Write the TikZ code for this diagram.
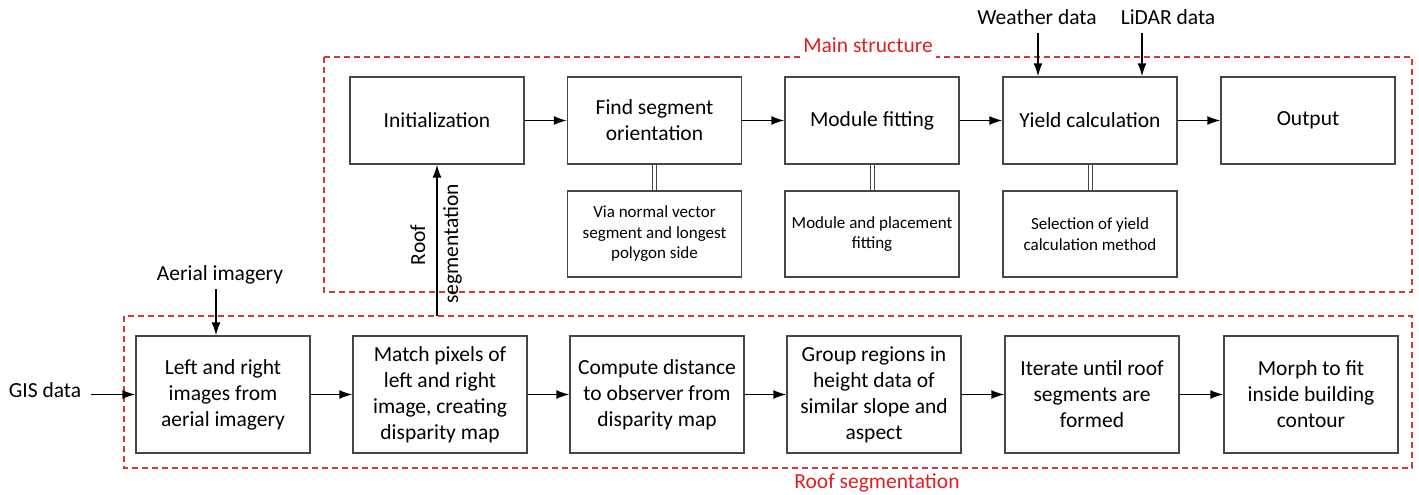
\documentclass[tikz,border=0pt]{standalone}
\usepackage{fontspec}
\setmainfont{Carlito}
\usetikzlibrary{arrows.meta}
\definecolor{boxgray}{RGB}{70,70,70}
\definecolor{dashred}{RGB}{205,60,60}
\definecolor{labred}{RGB}{225,30,35}
\begin{document}
\begin{tikzpicture}[x=1pt,y=-1pt,
  box/.style={draw=boxgray,line width=1.3pt,minimum width=174pt,minimum height=87pt,align=center,inner sep=2pt,font=\fontsize{21.5}{26}\selectfont},
  lowbox/.style={box,minimum height=117pt},
  subbox/.style={draw=boxgray,line width=1.3pt,minimum width=174pt,minimum height=86pt,align=center,inner sep=2pt,font=\fontsize{17}{20.5}\selectfont},
  lab/.style={font=\fontsize{21.5}{26}\selectfont,inner sep=0pt,anchor=base},
  redlab/.style={lab,text=labred},
  arr/.style={line width=1.6pt,-{Latex[length=13pt,width=9pt]}},
  dbl/.style={draw=boxgray,line width=1pt,double=white,double distance=3pt},
  dashbox/.style={draw=dashred,line width=1.2pt,dash pattern=on 6pt off 4pt}]
\useasboundingbox (0,0) rectangle (1419,495);
% dashed group frames
\draw[dashbox] (324,57) rectangle (1412,292);
\draw[dashbox] (124,316) rectangle (1412,468);
\node[redlab,fill=white,inner xsep=3pt,inner ysep=0pt,text depth=6pt] (mainlab) at (868,53) {Main structure};
\node[redlab] (rooflab) at (877,488) {Roof segmentation};
% main structure
\node[box] (init) at (437,120.5) {Initialization};
\node[box] (findseg) at (654.5,120.5) {Find segment\\orientation};
\node[box] (modfit) at (872,120.5) {Module fitting};
\node[box] (yield) at (1090,120.5) {Yield calculation};
\node[box] (output) at (1308,120.5) {Output};
\node[subbox] (findsub) at (654.5,234) {Via normal vector\\segment and longest\\polygon side};
\node[subbox] (modsub) at (872,234) {Module and placement\\fitting};
\node[subbox] (yieldsub) at (1090,234) {Selection of yield\\calculation method};
\draw[arr] (init) -- (findseg);
\draw[arr] (findseg) -- (modfit);
\draw[arr] (modfit) -- (yield);
\draw[arr] (yield) -- (output);
\draw[dbl] (findseg.south) -- (findsub.north);
\draw[dbl] (modfit.south) -- (modsub.north);
\draw[dbl] (yield.south) -- (yieldsub.north);
% inputs
\node[lab] (weather) at (1037,25) {Weather data};
\node[lab] (lidar) at (1168,25) {LiDAR data};
\coordinate (wtop) at (1038,33);
\coordinate (ltop) at (1142,33);
\draw[arr] (wtop) -- (wtop |- yield.north);
\draw[arr] (ltop) -- (ltop |- yield.north);
% roof segmentation
\node[lowbox] (b1) at (223,394.5) {Left and right\\images from\\aerial imagery};
\node[lowbox] (b2) at (440,394.5) {Match pixels of\\left and right\\image, creating\\disparity map};
\node[lowbox] (b3) at (657,394.5) {Compute distance\\to observer from\\disparity map};
\node[lowbox] (b4) at (874,394.5) {Group regions in\\height data of\\similar slope and\\aspect};
\node[lowbox] (b5) at (1092,394.5) {Iterate until roof\\segments are\\formed};
\node[lowbox] (b6) at (1311,394.5) {Morph to fit\\inside building\\contour};
\draw[arr] (b1) -- (b2);
\draw[arr] (b2) -- (b3);
\draw[arr] (b3) -- (b4);
\draw[arr] (b4) -- (b5);
\draw[arr] (b5) -- (b6);
\node[lab] (aerial) at (220,280) {Aerial imagery};
\coordinate (atop) at (216,289);
\draw[arr] (atop) -- (atop |- b1.north);
\node[lab] (gis) at (45,397) {GIS data};
\coordinate (gstart) at (91,394.5);
\draw[arr] (gstart) -- (b1.west);
% roof segmentation result to initialization
\coordinate (rstart) at (437,316);
\draw[arr] (rstart) -- (init.south);
\node[lab,rotate=90] (rooft1) at (425,245) {Roof};
\node[lab,rotate=90] (rooft2) at (458,244) {segmentation};
\end{tikzpicture}
\end{document}
